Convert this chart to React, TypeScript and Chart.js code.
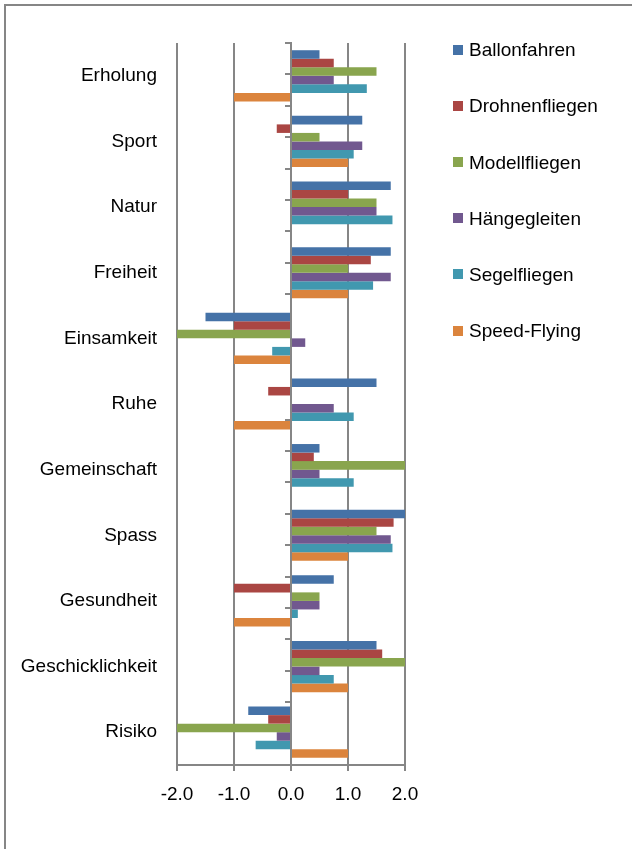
import React, { useEffect, useRef } from "react";
import { Chart, registerables } from "chart.js";

Chart.register(...registerables);

const categories = [
  "Erholung",
  "Sport",
  "Natur",
  "Freiheit",
  "Einsamkeit",
  "Ruhe",
  "Gemeinschaft",
  "Spass",
  "Gesundheit",
  "Geschicklichkeit",
  "Risiko",
];

const seriesNames = [
  "Ballonfahren",
  "Drohnenfliegen",
  "Modellfliegen",
  "Hängegleiten",
  "Segelfliegen",
  "Speed-Flying",
];

const ballonfahren = [0.5, 1.25, 1.75, 1.75, -1.5, 1.5, 0.5, 2.0, 0.75, 1.5, -0.75];
const drohnenfliegen = [0.75, -0.25, 1.0, 1.4, -1.0, -0.4, 0.4, 1.8, -1.0, 1.6, -0.4];
const modellfliegen = [1.5, 0.5, 1.5, 1.0, -2.0, 0, 2.0, 1.5, 0.5, 2.0, -2.0];
const haengegleiten = [0.75, 1.25, 1.5, 1.75, 0.25, 0.75, 0.5, 1.75, 0.5, 0.5, -0.25];
const segelfliegen = [1.33, 1.1, 1.78, 1.44, -0.33, 1.1, 1.1, 1.78, 0.12, 0.75, -0.62];
const speedFlying = [-1.0, 1.0, 0, 1.0, -1.0, -1.0, 0, 1.0, -1.0, 1.0, 1.0];

const seriesValues = [
  ballonfahren,
  drohnenfliegen,
  modellfliegen,
  haengegleiten,
  segelfliegen,
  speedFlying,
];

const seriesColors = ["#4572A7", "#AA4643", "#89A54E", "#71588F", "#4198AF", "#DB843D"];

const xTickValues = [-2, -1, 0, 1, 2];

const FONT_FAMILY = "'Liberation Sans', Arial, sans-serif";
const AXIS_COLOR = "#868686";

export default function App() {
  const canvasRef = useRef<HTMLCanvasElement | null>(null);

  useEffect(() => {
    const canvas = canvasRef.current;
    if (!canvas) return;

    const chart = new Chart(canvas, {
      type: "bar",
      data: {
        labels: categories,
        datasets: seriesNames.map((name, i) => ({
          label: name,
          data: seriesValues[i],
          backgroundColor: seriesColors[i],
          borderWidth: 0,
          xAxisID: "x",
          yAxisID: "y",
          categoryPercentage: 0.78,
          barPercentage: 1.0,
        })),
      },
      options: {
        indexAxis: "y",
        animation: false,
        responsive: false,
        maintainAspectRatio: false,
        layout: { padding: { left: 8, top: 43, right: 227, bottom: 0 } },
        plugins: {
          legend: { display: false },
          tooltip: { enabled: false },
        },
        scales: {
          x: {
            type: "linear",
            position: "bottom",
            min: -2,
            max: 2,
            afterBuildTicks: (s: any) => {
              s.ticks = xTickValues.map((v) => ({ value: v }));
            },
            afterFit: (s: any) => {
              s.height = 84;
            },
            ticks: {
              color: "#000",
              font: { family: FONT_FAMILY, size: 19 },
              padding: 12,
              callback: (v: any) => Number(v).toFixed(1),
            },
            grid: {
              color: AXIS_COLOR,
              lineWidth: 2,
              drawTicks: true,
              tickLength: 6,
            },
            border: { display: true, color: AXIS_COLOR, width: 2 },
          },
          y: {
            type: "category",
            position: "left",
            afterFit: (s: any) => {
              s.width = 169;
            },
            grid: { display: false, drawTicks: false },
            border: { display: false },
            ticks: {
              color: "#000",
              font: { family: FONT_FAMILY, size: 19 },
              padding: 20,
            },
          },
          y2: {
            type: "linear",
            axis: "y",
            position: { x: 0 },
            min: -0.5,
            max: categories.length - 0.5,
            reverse: true,
            afterBuildTicks: (s: any) => {
              const t: any[] = [];
              for (let k = 0; k <= categories.length * 2; k++) {
                t.push({ value: -0.5 + k * 0.5 });
              }
              s.ticks = t;
            },
            ticks: { display: false },
            grid: {
              drawOnChartArea: false,
              drawTicks: true,
              tickLength: 5,
              color: AXIS_COLOR,
              lineWidth: 2,
            },
            border: { display: true, color: AXIS_COLOR, width: 2 },
          },
        },
      } as any,
    });

    return () => {
      chart.destroy();
    };
  }, []);

  return (
    <div style={{ position: "absolute", left: 0, top: 0, width: 632, height: 849, overflow: "hidden", background: "#fff" }}>
      <div
        style={{
          position: "absolute",
          left: 4,
          top: 4,
          width: 800,
          height: 1000,
          borderLeft: `2px solid ${AXIS_COLOR}`,
          borderTop: `2px solid ${AXIS_COLOR}`,
          boxSizing: "border-box",
        }}
      />
      <canvas
        ref={canvasRef}
        width={632}
        height={849}
        style={{ position: "absolute", left: 0, top: 0, width: 632, height: 849 }}
      />
      <div style={{ position: "absolute", left: 453, top: 21.6 }}>
        {seriesNames.map((name, i) => (
          <div
            key={name}
            style={{
              height: 56.2,
              display: "flex",
              alignItems: "center",
              fontFamily: FONT_FAMILY,
              fontSize: 19,
              lineHeight: "23px",
              color: "#000",
              whiteSpace: "nowrap",
            }}
          >
            <span
              style={{
                display: "inline-block",
                width: 10,
                height: 10,
                background: seriesColors[i],
                marginRight: 6,
              }}
            />
            <span>{name}</span>
          </div>
        ))}
      </div>
    </div>
  );
}
